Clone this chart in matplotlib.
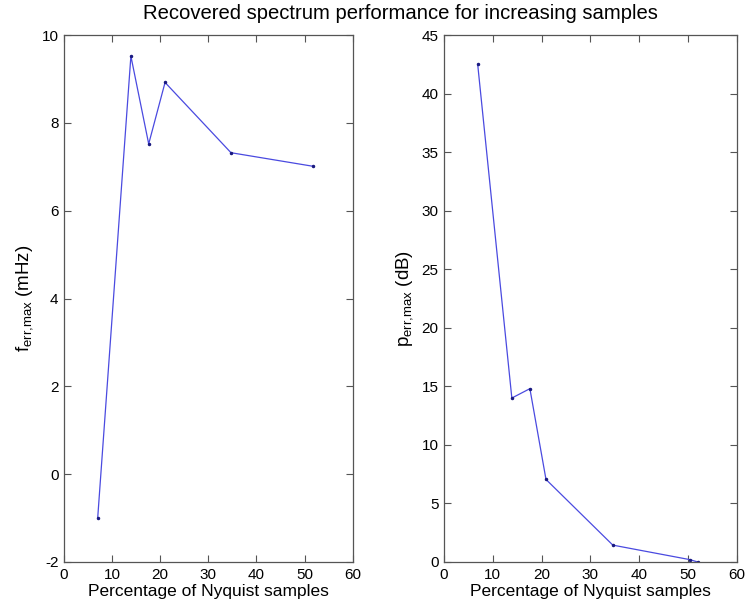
import matplotlib
matplotlib.use("Agg")
import matplotlib.pyplot as plt

plt.rcParams['font.family'] = ['Liberation Sans', 'DejaVu Sans']
plt.rcParams['mathtext.fontset'] = 'custom'
plt.rcParams['mathtext.rm'] = 'Liberation Sans'
plt.rcParams['mathtext.it'] = 'Liberation Sans'
plt.rcParams['axes.unicode_minus'] = False

# Percentage of Nyquist samples used for recovery
pct_freq = [7.0, 13.9, 17.6, 21.0, 34.7, 51.8]
# Maximum frequency error (mHz)
f_err_max = [-1.0, 9.52, 7.52, 8.92, 7.32, 7.01]

pct_pow = [6.9, 13.9, 17.6, 20.9, 34.6, 50.4, 52.0]
# Maximum power error (dB)
p_err_max = [42.5, 14.0, 14.8, 7.05, 1.44, 0.2, 0.0]

xticks = [0, 10, 20, 30, 40, 50, 60]
line_color = '#4a4ae0'
mark_color = '#1a1a80'
spine_color = '#555555'

fig = plt.figure(figsize=(7.46, 6.09), dpi=100)
ax1 = fig.add_axes([0.0858, 0.0772, 0.387, 0.8653])
ax2 = fig.add_axes([0.5952, 0.0772, 0.3924, 0.8653])

def style(ax):
    ax.set_xlim(0, 60)
    ax.set_xticks(xticks)
    ax.tick_params(direction='in', top=True, right=True, length=5, width=0.8,
                   labelsize=11, color=spine_color, pad=4)
    for s in ax.spines.values():
        s.set_color(spine_color)
        s.set_linewidth(0.9)
    ax.set_xlabel('Percentage of Nyquist samples', fontsize=12.5, labelpad=2)

ax1.plot(pct_freq, f_err_max, color=line_color, lw=0.9)
ax1.plot(pct_freq, f_err_max, ls='none', marker='.', ms=3, color=mark_color)
ax1.set_ylim(-2, 10)
ax1.set_yticks([-2, 0, 2, 4, 6, 8, 10])
style(ax1)
ax1.set_ylabel(r'f$_{\mathrm{err{,}max}}$ (mHz)', fontsize=13.5, labelpad=5)

ax2.plot(pct_pow, p_err_max, color=line_color, lw=0.9)
ax2.plot(pct_pow, p_err_max, ls='none', marker='.', ms=3, color=mark_color)
ax2.set_ylim(0, 45)
ax2.set_yticks(range(0, 46, 5))
style(ax2)
ax2.set_ylabel(r'p$_{\mathrm{err{,}max}}$ (dB)', fontsize=13.5, labelpad=5)

fig.text(0.537, 0.978, 'Recovered spectrum performance for increasing samples',
         ha='center', va='center', fontsize=14.6)

fig.savefig('out.png', dpi=100)
